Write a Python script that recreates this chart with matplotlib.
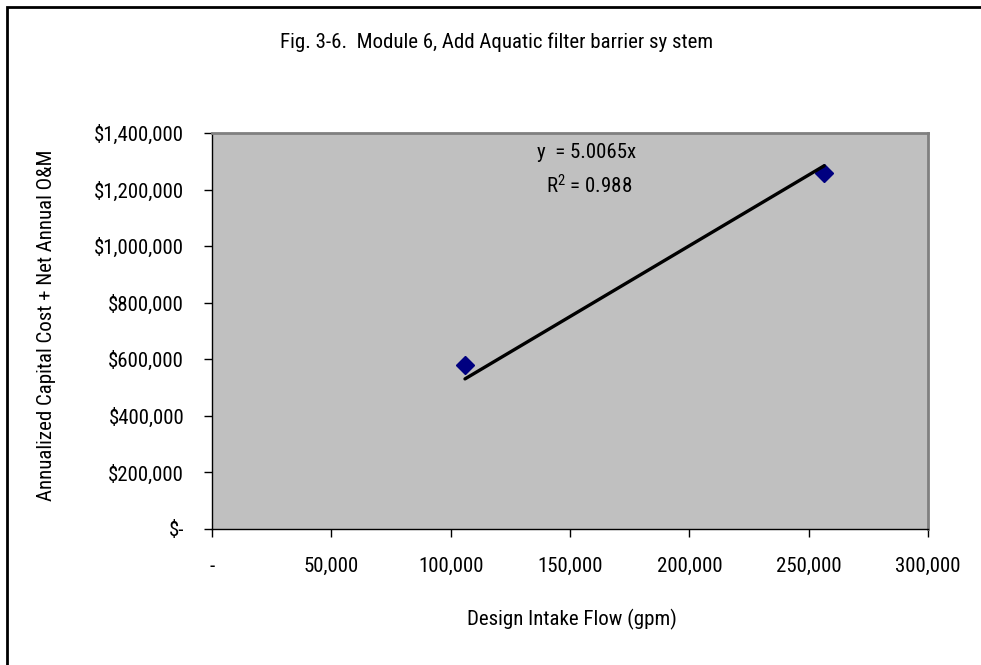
import matplotlib.pyplot as plt
from matplotlib.patches import Rectangle
from matplotlib.ticker import FuncFormatter

# data
flow = [106000, 256500]
cost = [580000, 1258000]
slope = 5.0065
r2 = 0.988

x_ticks = [0, 50000, 100000, 150000, 200000, 250000, 300000]
y_ticks = [0, 200000, 400000, 600000, 800000, 1000000, 1200000, 1400000]

plt.rcParams['font.family'] = ['Roboto Condensed', 'DejaVu Sans']
fs = 15

W, H = 981, 665
fig = plt.figure(figsize=(W / 100, H / 100), dpi=100)
ax = fig.add_axes([212 / W, 1 - 529 / H, 716 / W, 396 / H])
ax.set_facecolor('#c0c0c0')

# outer chart frame (cut off at right and bottom like the original)
fig.patches.append(Rectangle((7 / W, -0.1), 1.2, 1 - 7 / H + 0.1,
                             transform=fig.transFigure, fill=False,
                             edgecolor='black', linewidth=2))

ax.plot(flow, cost, linestyle='none', marker='D', markersize=9,
        color='#000080')
fit_x = [min(flow), max(flow)]
fit_y = [slope * v for v in fit_x]
ax.plot(fit_x, fit_y, color='black', linewidth=2.4, solid_capstyle='round')

ax.set_xlim(0, 300000)
ax.set_ylim(0, 1400000)
ax.set_xticks(x_ticks)
ax.set_yticks(y_ticks)
ax.xaxis.set_major_formatter(FuncFormatter(lambda v, p: '-' if v == 0 else f'{v:,.0f}'))
ax.yaxis.set_major_formatter(FuncFormatter(lambda v, p: '$-' if v == 0 else f'${v:,.0f}'))
ax.tick_params(axis='both', direction='out', length=6, width=1, color='black',
               labelsize=fs)
ax.tick_params(axis='x', pad=14)
ax.tick_params(axis='y', pad=14)

for s in ['top', 'right']:
    ax.spines[s].set_color('#808080')
    ax.spines[s].set_linewidth(2)
for s in ['left', 'bottom']:
    ax.spines[s].set_color('black')
    ax.spines[s].set_linewidth(1)

fig.text(572 / W, 1 - 619 / H, 'Design Intake Flow (gpm)', ha='center', va='center', fontsize=fs)
fig.text(47 / W, 1 - 325 / H, 'Annualized Capital Cost + Net Annual O&M',
         rotation=90, ha='center', va='center', fontsize=fs)
fig.text(497 / W, 1 - 42 / H, 'Fig. 3-6.  Module 6, Add Aquatic filter barrier sy stem',
         ha='center', va='center', fontsize=fs)

fig.text(587 / W, 1 - 153 / H, 'y  = 5.0065x', ha='center', va='center', fontsize=fs)
fig.text(589 / W, 1 - 186 / H, '$\\mathregular{R^2}$ = ' + f'{r2}',
         ha='center', va='center', fontsize=fs)

fig.savefig('out.png', dpi=100)
